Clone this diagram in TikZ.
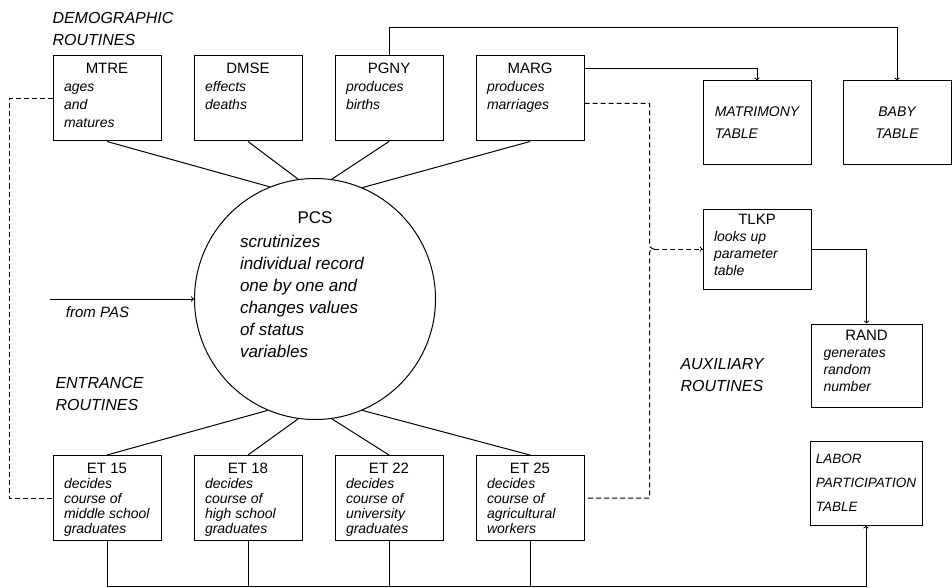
\documentclass[tikz,border=0pt]{standalone}
\usepackage{fontspec}
\setmainfont{Liberation Sans}
\usetikzlibrary{positioning}

% title centred, description below in italics
\newcommand{\rtntext}[3][18pt]{\parbox[t][70pt][t]{86pt}{\centering\fontsize{15}{18}\selectfont #2\par
    \raggedright\itshape\fontsize{14}{#1}\selectfont #3}}

\begin{document}
\begin{tikzpicture}[
    x=1pt, y=-1pt, line width=1pt,
    rtn/.style={rectangle, draw, minimum width=108pt, minimum height=85pt, inner sep=0pt},
    tbl/.style={rectangle, draw, minimum width=108pt, minimum height=84pt, inner sep=0pt,
        align=left, font=\itshape\fontsize{14}{22}\selectfont},
    grp/.style={anchor=north west, inner sep=0pt, align=left, font=\itshape\fontsize{16}{22}\selectfont},
    dlink/.style={dash pattern=on 5pt off 3pt},
]
    \useasboundingbox (0,0) rectangle (952,588);

    % Demographic routines
    \node[grp] (demog) at (52,12) {DEMOGRAPHIC\\ROUTINES};
    \node[rtn] (MTRE) at (107,98.5) {\rtntext{MTRE}{ages\\and\\matures}};
    \node[rtn] (DMSE) [right=32pt of MTRE] {\rtntext{DMSE}{effects\\deaths}};
    \node[rtn] (PGNY) [right=32pt of DMSE] {\rtntext{PGNY}{produces\\births}};
    \node[rtn] (MARG) [right=32pt of PGNY] {\rtntext{MARG}{produces\\marriages}};

    % Tables
    \node[tbl] (MATR) at (757,123) {MATRIMONY\\TABLE};
    \node[tbl, align=center] (BABY) at (897,123) {BABY\\TABLE};
    \node[tbl, minimum width=112pt, font=\itshape\fontsize{13.5}{24}\selectfont] (LABOR) at (866,483) {LABOR\\PARTICIPATION\\TABLE};

    % Main routine
    \node[circle, draw, minimum size=241pt, inner sep=0pt] (PCS) at (315,299) {};
    \node (PCStxt) at (315,285) {\parbox{150pt}{\centering\fontsize{17}{22}\selectfont PCS\par\vspace{2pt}
        \raggedright\itshape scrutinizes\\individual record\\one by one and\\changes values\\of status\\variables}};
    \coordinate (PASin) at (50,299);

    % Entrance routines
    \node[grp] (entr) at (55,377) {ENTRANCE\\ROUTINES};
    \node[rtn] (ET15) at (107,498) {\rtntext[15pt]{ET 15}{decides\\course of\\middle school\\graduates}};
    \node[rtn] (ET18) [right=32pt of ET15] {\rtntext[15pt]{ET 18}{decides\\course of\\high school\\graduates}};
    \node[rtn] (ET22) [right=32pt of ET18] {\rtntext[15pt]{ET 22}{decides\\course of\\university\\graduates}};
    \node[rtn] (ET25) [right=32pt of ET22] {\rtntext[15pt]{ET 25}{decides\\course of\\agricultural\\workers}};

    % Auxiliary routines
    \node[grp] (auxl) at (680,358) {AUXILIARY\\ROUTINES};
    \node[rtn, minimum height=80pt] (TLKP) at (757,249) {\rtntext[17pt]{TLKP}{looks up\\parameter\\table}};
    \node[rtn, minimum width=111pt, minimum height=83pt] (RAND) at (866.5,365.5) {\rtntext[17pt]{RAND}{generates\\random\\number}};
    \coordinate (aux) at (649.5,249);
    \coordinate (auxtip) at (653.5,249);

    % Lines
    \foreach \b/\a in {MTRE/112, DMSE/98, PGNY/82, MARG/67}
        \draw (\b.south) -- (PCS.\a);
    \foreach \b/\a in {ET15/247, ET18/262, ET22/278, ET25/293}
        \draw (\b.north) -- (PCS.\a);

    \draw[->] (PASin) -- (PCS.west) node[pos=0.33, below=4pt, font=\itshape\fontsize{15}{18}\selectfont] (PASlbl) {from PAS};

    \draw[->] (PGNY.north) -- ++(0,-28) -| (BABY.north);
    \draw[->] ([yshift=30pt]MARG.east) -| (MATR.north);
    \draw[->] (TLKP.east) -| (RAND.north);

    \draw[->] (ET15.south) -- ++(0,45) -| (LABOR.south);
    \foreach \e in {ET18, ET22, ET25}
        \draw (\e.south) -- ++(0,45);

    \draw[dlink] (MTRE.west) -- ++(-43,0) |- (ET15.west);
    \draw[dlink] ([yshift=-5pt]MARG.east) -| ([yshift=6pt]aux)
        .. controls ([yshift=2pt]aux) and ([xshift=1pt]aux) .. (auxtip)
        .. controls ([xshift=1pt]aux) and ([yshift=-2pt]aux) .. ([yshift=-6pt]aux) |- (ET25.east);
    \draw[dlink, ->] (auxtip) -- (TLKP.west);

\end{tikzpicture}
\end{document}
